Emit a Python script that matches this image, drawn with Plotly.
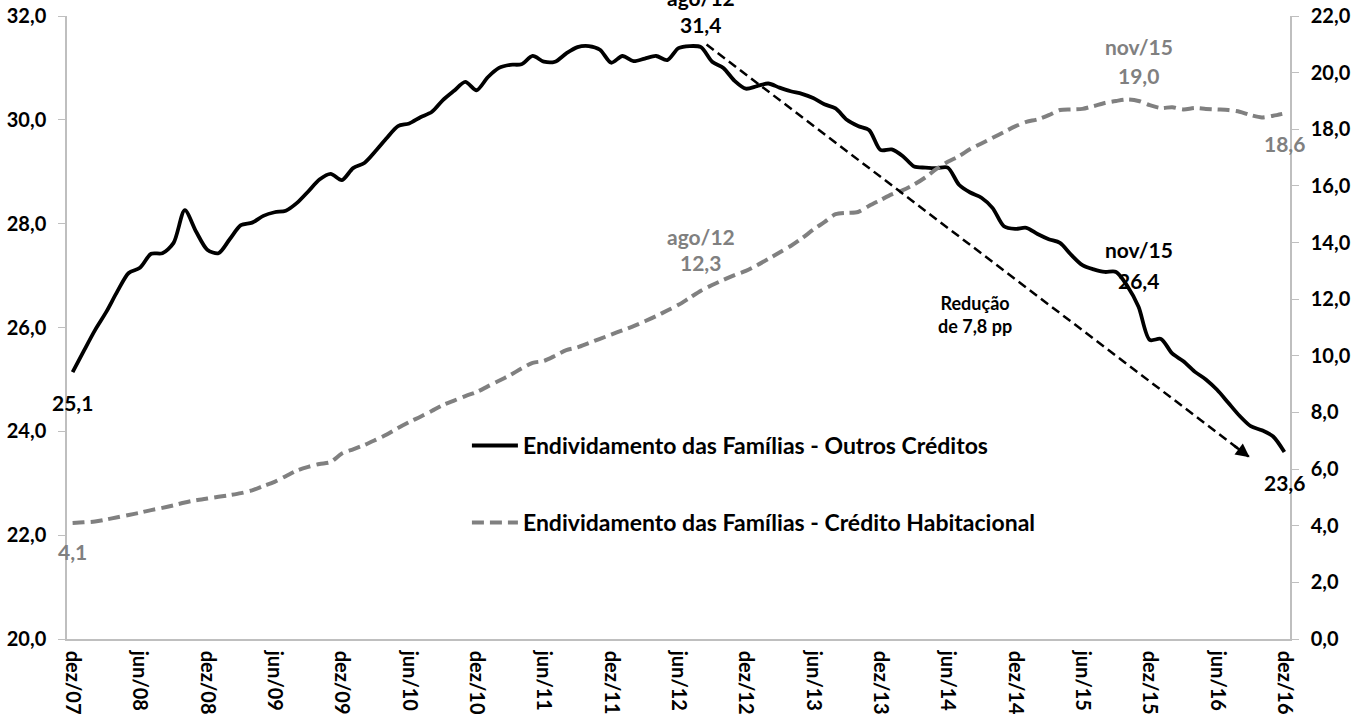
import plotly.graph_objects as go

# ---------------- data ----------------
month_names = ["jan", "fev", "mar", "abr", "mai", "jun", "jul", "ago", "set", "out", "nov", "dez"]
categories = ["dez/07"] + [f"{m}/{y:02d}" for y in range(8, 17) for m in month_names]

outros_creditos = [
    25.14, 25.55, 25.95, 26.30, 26.70, 27.05, 27.15, 27.42, 27.43, 27.63,
    28.26, 27.85, 27.50, 27.43, 27.70, 27.97, 28.02, 28.15, 28.22, 28.25,
    28.40, 28.62, 28.85, 28.96, 28.84, 29.07, 29.17, 29.40, 29.65, 29.88,
    29.93, 30.05, 30.15, 30.38, 30.56, 30.73, 30.57, 30.82, 31.00, 31.06,
    31.07, 31.23, 31.12, 31.12, 31.28, 31.40, 31.42, 31.35, 31.10, 31.23,
    31.13, 31.18, 31.23, 31.15, 31.38, 31.42, 31.40, 31.12, 31.00, 30.75,
    30.60, 30.65, 30.70, 30.62, 30.55, 30.50, 30.42, 30.30, 30.22, 30.00,
    29.88, 29.80, 29.42, 29.43, 29.30, 29.10, 29.08, 29.07, 29.08, 28.75,
    28.60, 28.50, 28.30, 27.95, 27.90, 27.92, 27.80, 27.70, 27.63, 27.40,
    27.20, 27.12, 27.07, 27.07, 26.80, 26.40, 25.76, 25.78, 25.50, 25.35,
    25.15, 25.00, 24.80, 24.55, 24.30, 24.10, 24.02, 23.90, 23.60,
]

credito_habitacional = [
    4.10, 4.12, 4.15, 4.22, 4.30, 4.38, 4.46, 4.55, 4.63, 4.72,
    4.82, 4.90, 4.96, 5.02, 5.08, 5.15, 5.25, 5.40, 5.55, 5.75,
    5.95, 6.08, 6.18, 6.25, 6.55, 6.70, 6.85, 7.03, 7.22, 7.45,
    7.66, 7.85, 8.05, 8.26, 8.42, 8.58, 8.72, 8.92, 9.12, 9.32,
    9.55, 9.75, 9.82, 10.00, 10.20, 10.30, 10.45, 10.60, 10.75, 10.90,
    11.05, 11.22, 11.40, 11.60, 11.80, 12.05, 12.30, 12.50, 12.68, 12.85,
    13.00, 13.20, 13.42, 13.65, 13.88, 14.15, 14.45, 14.72, 15.00, 15.05,
    15.08, 15.30, 15.50, 15.70, 15.85, 16.05, 16.30, 16.60, 16.85, 17.05,
    17.30, 17.50, 17.70, 17.90, 18.10, 18.26, 18.35, 18.50, 18.68, 18.70,
    18.72, 18.82, 18.93, 19.00, 19.05, 19.00, 18.85, 18.75, 18.78, 18.70,
    18.75, 18.72, 18.70, 18.68, 18.62, 18.50, 18.42, 18.48, 18.56,
]

x_tick_labels = ["dez/07", "jun/08", "dez/08", "jun/09", "dez/09", "jun/10", "dez/10",
                 "jun/11", "dez/11", "jun/12", "dez/12", "jun/13", "dez/13", "jun/14",
                 "dez/14", "jun/15", "dez/15", "jun/16", "dez/16"]
left_ticks = [20, 22, 24, 26, 28, 30, 32]
left_tick_labels = ["20,0", "22,0", "24,0", "26,0", "28,0", "30,0", "32,0"]
right_ticks = [0, 2, 4, 6, 8, 10, 12, 14, 16, 18, 20, 22]
right_tick_labels = ["0,0", "2,0", "4,0", "6,0", "8,0", "10,0", "12,0", "14,0",
                     "16,0", "18,0", "20,0", "22,0"]

name_outros = "Endividamento das Famílias - Outros Créditos"
name_hab = "Endividamento das Famílias - Crédito Habitacional"

# trend arrow (ago/12 peak -> end of series)
arrow_start = (56.5, 31.45)
arrow_end = (104.9, 23.5)
arrow_text = "Redução<br>de 7,8 pp"
arrow_text_pos = (80.4, 26.26)

FONT = "Lato"
BLACK = "#000000"
GRAY = "#808080"
AXIS = "#bfbfbf"

idx = list(range(len(categories)))

fig = go.Figure()
fig.add_trace(go.Scatter(
    x=idx, y=outros_creditos, name=name_outros, mode="lines",
    line=dict(color=BLACK, width=3.8, shape="spline", smoothing=0.8),
    legendgroup="a",
))
fig.add_trace(go.Scatter(
    x=idx, y=credito_habitacional, name=name_hab, mode="lines", yaxis="y2",
    line=dict(color=GRAY, width=4, dash="12px,6px", shape="spline", smoothing=0.8),
    legendgroup="b",
))

# dashed trend line with arrow head
fig.add_shape(type="line", xref="x", yref="y",
              x0=arrow_start[0], y0=arrow_start[1], x1=arrow_end[0], y1=arrow_end[1],
              line=dict(color=BLACK, width=2.5, dash="9px,5px"))
slope = (arrow_end[1] - arrow_start[1]) / (arrow_end[0] - arrow_start[0])
fig.add_annotation(x=arrow_end[0], y=arrow_end[1], xref="x", yref="y",
                   ax=arrow_end[0] - 1.5, ay=arrow_end[1] - 1.5 * slope,
                   axref="x", ayref="y", text="", showarrow=True,
                   arrowhead=2, arrowsize=1.1, arrowwidth=2.5, arrowcolor=BLACK, standoff=0)
fig.add_annotation(x=arrow_text_pos[0], y=arrow_text_pos[1], xref="x", yref="y",
                   text=arrow_text, showarrow=False,
                   font=dict(family=FONT, size=18, color=BLACK, weight="bold"))


def label(i, series, yref, text, yshift, color, xshift=0):
    fig.add_annotation(x=i, y=series[i], xref="x", yref=yref, text=text,
                       showarrow=False, xanchor="center", yanchor="middle",
                       xshift=xshift, yshift=yshift,
                       font=dict(family=FONT, size=21, color=color, weight="bold"))


def fmt(v):
    return f"{v:.1f}".replace(".", ",")


i_ago12 = categories.index("ago/12")
i_nov15 = categories.index("nov/15")
i_last = len(categories) - 1

# black series labels
label(0, outros_creditos, "y", fmt(outros_creditos[0]), -30, BLACK)
label(i_ago12, outros_creditos, "y", fmt(outros_creditos[i_ago12]), 23, BLACK)
label(i_ago12, outros_creditos, "y", "ago/12", 50, BLACK)
label(i_nov15, outros_creditos, "y", fmt(outros_creditos[i_nov15]), 26, BLACK)
label(i_nov15, outros_creditos, "y", "nov/15", 57, BLACK)
label(i_last, outros_creditos, "y", fmt(outros_creditos[i_last]), -30, BLACK)
# gray series labels
label(0, credito_habitacional, "y2", fmt(credito_habitacional[0]), -29, GRAY)
label(i_ago12, credito_habitacional, "y2", fmt(credito_habitacional[i_ago12]), 28, GRAY)
label(i_ago12, credito_habitacional, "y2", "ago/12", 54, GRAY)
label(i_nov15, credito_habitacional, "y2", fmt(credito_habitacional[i_nov15]), 25, GRAY)
label(i_nov15, credito_habitacional, "y2", "nov/15", 54, GRAY)
label(i_last, credito_habitacional, "y2", "18,6", -30, GRAY)

tick_idx = [categories.index(t) for t in x_tick_labels]

fig.update_layout(
    width=1352, height=714,
    margin=dict(l=67, r=62, t=16, b=75, autoexpand=False),
    paper_bgcolor="white", plot_bgcolor="white",
    font=dict(family=FONT, size=20, color=BLACK, weight="bold"),
    showlegend=True,
    legend=dict(x=0.327, y=0.345, xanchor="left", yanchor="top",
                bgcolor="rgba(0,0,0,0)", borderwidth=0, itemwidth=46,
                font=dict(family=FONT, size=23, color=BLACK, weight="bold"),
                tracegroupgap=44, traceorder="grouped"),
    xaxis=dict(range=[-0.5, len(categories) - 0.5], tickmode="array",
               tickvals=tick_idx, ticktext=x_tick_labels, tickangle=90,
               showgrid=False, zeroline=False, showline=True, linecolor=AXIS,
               linewidth=1.5, ticks="", ticklabelstandoff=6, automargin=False,
               tickfont=dict(family=FONT, size=20, color=BLACK, weight="bold")),
    yaxis=dict(range=[20, 32], tickmode="array", tickvals=left_ticks,
               ticktext=left_tick_labels, showgrid=False, zeroline=False,
               showline=True, linecolor=AXIS, linewidth=1.5, ticks="outside",
               ticklen=7, tickcolor=AXIS, ticklabelstandoff=8, automargin=False,
               tickfont=dict(family=FONT, size=20, color=BLACK, weight="bold")),
    yaxis2=dict(range=[0, 22], overlaying="y", side="right", anchor="x",
                tickmode="array", tickvals=right_ticks, ticktext=right_tick_labels,
                showgrid=False, zeroline=False, showline=True, linecolor=AXIS,
                linewidth=1.5, ticks="outside", ticklen=7, tickcolor=AXIS,
                ticklabelstandoff=8, automargin=False,
                tickfont=dict(family=FONT, size=20, color=BLACK, weight="bold")),
)

fig.write_html("out.html", config={"displayModeBar": False},
               post_script="document.body.style.margin='0';document.body.style.overflow='hidden';")
